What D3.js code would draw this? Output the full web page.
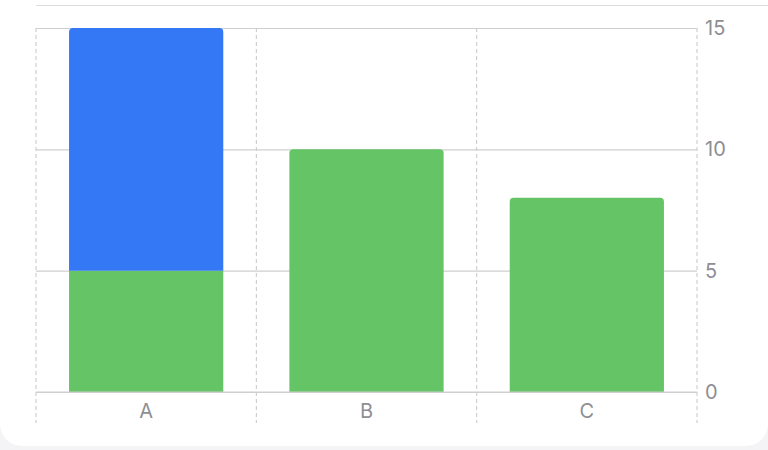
<!DOCTYPE html>
<html>
<head>
<meta charset="utf-8">
<script src="https://cdn.jsdelivr.net/npm/d3@7"></script>
<style>
  html, body { margin: 0; padding: 0; background: #f4f4f7; }
  svg { display: block; }
</style>
</head>
<body>
<script>
// chart data
var categories = ['A', 'B', 'C'];
var greenValues = [5, 10, 8];
var blueValues = [10, 0, 0];
var yTicks = [0, 5, 10, 15];

var W = 768, H = 450;
var margin = {top: 28, right: 71, bottom: 58, left: 36};

var svg = d3.select('body').append('svg')
  .attr('width', W)
  .attr('height', H);

// white card
svg.append('rect')
  .attr('x', 0).attr('y', -40)
  .attr('width', W).attr('height', 486)
  .attr('rx', 22)
  .attr('fill', '#ffffff');

// thin separator at the top
svg.append('line')
  .attr('x1', 36).attr('x2', W)
  .attr('y1', 5.5).attr('y2', 5.5)
  .attr('stroke', '#dedede').attr('stroke-width', 1.2);

var x = d3.scaleBand()
  .domain(categories)
  .range([margin.left, W - margin.right])
  .paddingInner(0.3).paddingOuter(0.15);

var y = d3.scaleLinear()
  .domain([0, 15])
  .range([H - margin.bottom, margin.top]);

var rows = categories.map(function(c, i) {
  return {cat: c, green: greenValues[i], blue: blueValues[i]};
});
var stack = d3.stack().keys(['green', 'blue'])(rows);
var colors = {green: '#65c466', blue: '#3478f6'};

// vertical dashed lines at the band edges
var edges = categories.map(function(c) { return x(c) - x.step() * x.paddingInner() / 2; });
edges.push(W - margin.right);
edges[0] = margin.left;
svg.append('g').selectAll('line').data(edges).enter().append('line')
  .attr('x1', function(d) { return d; }).attr('x2', function(d) { return d; })
  .attr('y1', y(15)).attr('y2', 423)
  .attr('stroke', '#c6c6c8').attr('stroke-width', 1)
  .attr('stroke-dasharray', '4,3');

// horizontal grid + y labels on the right
var yAxis = d3.axisRight(y).tickValues(yTicks).tickSize(-(W - margin.left - margin.right)).tickPadding(8);
var gy = svg.append('g')
  .attr('transform', 'translate(' + (W - margin.right) + ',0)')
  .call(yAxis);
gy.select('.domain').remove();
gy.selectAll('.tick line').attr('stroke', '#cfcfcf').attr('stroke-width', 1.2);
gy.selectAll('.tick text')
  .attr('fill', '#8e8e93')
  .style('font-family', 'Inter, Roboto, sans-serif')
  .style('font-size', '20px');

// bars (top corners rounded only on the top segment)
function barPath(x0, w, yTop, yBot, r) {
  if (r <= 0) return 'M' + x0 + ',' + yBot + 'V' + yTop + 'H' + (x0 + w) + 'V' + yBot + 'Z';
  return 'M' + x0 + ',' + yBot +
    'V' + (yTop + r) +
    'Q' + x0 + ',' + yTop + ' ' + (x0 + r) + ',' + yTop +
    'H' + (x0 + w - r) +
    'Q' + (x0 + w) + ',' + yTop + ' ' + (x0 + w) + ',' + (yTop + r) +
    'V' + yBot + 'Z';
}

stack.forEach(function(layer, li) {
  svg.append('g').selectAll('path')
    .data(layer.filter(function(d) { return d[1] > d[0]; }))
    .enter().append('path')
    .attr('fill', colors[layer.key])
    .attr('d', function(d) {
      var top = li === stack.length - 1 || d.data.blue === 0;
      return barPath(x(d.data.cat), x.bandwidth(), y(d[1]), y(d[0]), top ? 4 : 0);
    });
});

// baseline
svg.append('line')
  .attr('x1', margin.left).attr('x2', W - margin.right)
  .attr('y1', y(0)).attr('y2', y(0))
  .attr('stroke', '#cfcfcf').attr('stroke-width', 1.2);

// x labels
var xAxis = d3.axisBottom(x).tickSize(0).tickPadding(12);
var gx = svg.append('g')
  .attr('transform', 'translate(0,' + y(0) + ')')
  .call(xAxis);
gx.select('.domain').remove();
gx.selectAll('.tick text')
  .attr('fill', '#8e8e93')
  .style('font-family', 'Inter, Roboto, sans-serif')
  .style('font-size', '20px');
</script>
</body>
</html>
